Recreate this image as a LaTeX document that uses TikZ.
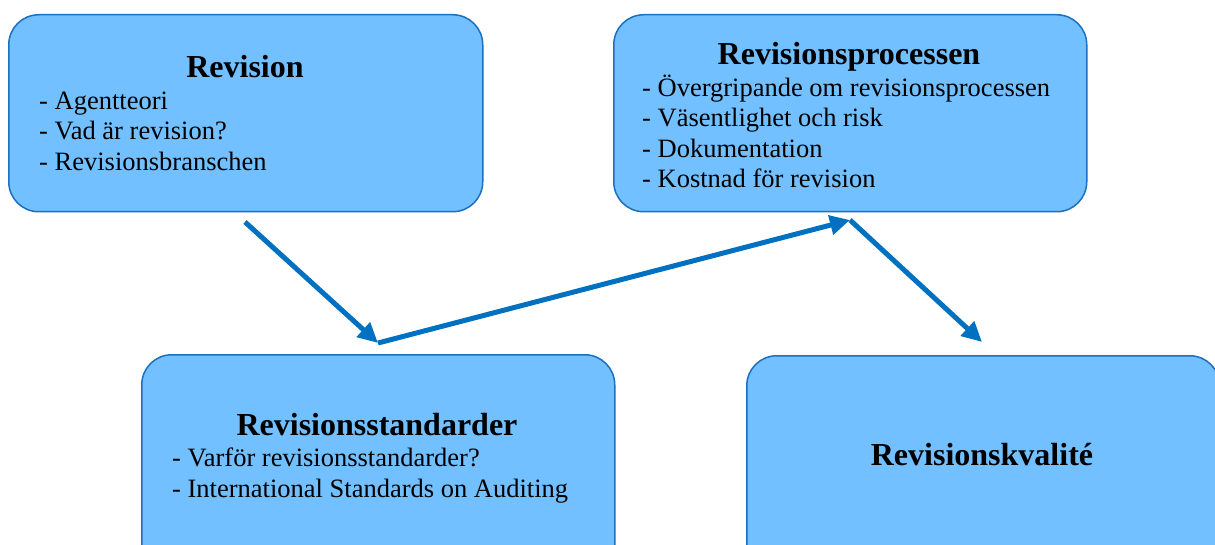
\documentclass[tikz,border=0pt]{standalone}
\usepackage{fontspec}
\setmainfont{Liberation Serif}
\usetikzlibrary{arrows.meta}
\definecolor{boxfill}{RGB}{114,192,255}
\definecolor{boxline}{RGB}{28,112,192}
\definecolor{arrowc}{RGB}{0,112,192}
\begin{document}
\begin{tikzpicture}[x=1pt,y=-1pt,
  box/.style={draw=boxline, line width=1.5pt, fill=boxfill, rounded corners=30pt, anchor=north west, inner sep=0pt},
  title/.style={anchor=base, inner sep=0pt, font=\fontsize{32}{36}\selectfont\bfseries},
  item/.style={anchor=base west, inner sep=0pt, font=\fontsize{26.5}{30}\selectfont},
  conn/.style={draw=arrowc, line width=5pt, -{Triangle[length=20pt,width=19pt]}}]
\useasboundingbox (0,0) rectangle (1215,545);
\clip (0,0) rectangle (1215,545);
% boxes
\node[box, minimum width=474pt, minimum height=197pt] (b1) at (8,14) {};
\node[box, minimum width=473pt, minimum height=197pt] (b2) at (613,14) {};
\node[box, minimum width=473pt, minimum height=260pt] (b3) at (141,354) {};
\node[box, minimum width=473pt, minimum height=260pt] (b4) at (746,355) {};
% box 1
\node[title] (t1) at (245,78) {Revision};
\node[item] (l11) at (39,110) {- Agentteori};
\node[item] (l12) at (39,140) {- Vad är revision?};
\node[item] (l13) at (39,171) {- Revisionsbranschen};
% box 2
\node[title] (t2) at (849,65) {Revisionsprocessen};
\node[item] (l21) at (642,97) {- Övergripande om revisionsprocessen};
\node[item] (l22) at (642,127) {- Väsentlighet och risk};
\node[item] (l23) at (642,158) {- Dokumentation};
\node[item] (l24) at (642,188) {- Kostnad för revision};
% box 3
\node[title] (t3) at (377,435) {Revisionsstandarder};
\node[item] (l31) at (172,466) {- Varför revisionsstandarder?};
\node[item] (l32) at (172,497) {- International Standards on Auditing};
% box 4
\node[title] (t4) at (982,465) {Revisionskvalité};
% connectors
\coordinate (a0) at (245,222);
\coordinate (a1) at (378,343);
\coordinate (a2) at (850,220);
\coordinate (a3) at (982,342);
\draw[conn] (a0) -- (a1);
\draw[conn] (a1) -- (a2);
\draw[conn] (a2) -- (a3);
\end{tikzpicture}
\end{document}
